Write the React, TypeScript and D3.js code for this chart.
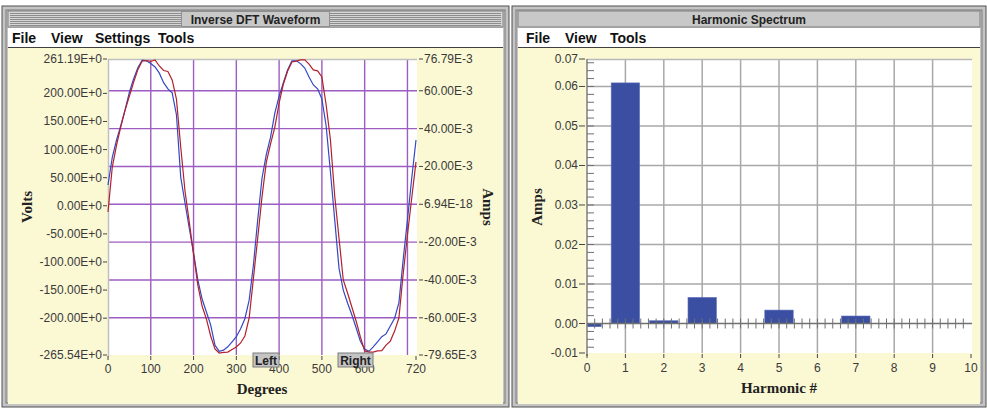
import React from "react";
import * as d3 from "d3";

// inverse DFT waveform, sampled every 10 degrees
const degrees = d3.range(0, 721, 10);
const volts = [
  37, 86, 117, 143, 171, 202, 226, 246, 259, 258,
  253, 247, 236, 219, 208, 201, 162, 51, 5, -40,
  -84, -132, -166, -189, -212, -248, -259, -257, -251, -242,
  -233, -219, -201, -168, -105, -25, 49, 91, 122, 165,
  195, 219, 242, 258, 258, 253, 245, 229, 215, 208,
  190, 142, 60, -25, -111, -150, -173, -194, -217, -241,
  -255, -259, -251, -242, -233, -228, -214, -200, -173, -96,
  -25, 49, 117,
];
const milliAmps = [
  -4.1, 19.7, 31.3, 41.0, 49.8, 57.2, 64.6, 71.3, 75.7, 76.0,
  75.5, 76.3, 73.1, 70.7, 70.2, 65.7, 55.6, 30.3, 7.0, -9.4,
  -26.3, -42.7, -53.8, -60.6, -69.6, -76.5, -78.6, -78.3, -78.1, -76.7,
  -75.4, -73.3, -69.6, -60.1, -39.0, -17.8, 3.9, 22.1, 31.9, 40.8,
  53.5, 63.6, 70.4, 75.2, 75.7, 76.3, 76.3, 74.1, 71.0, 70.5,
  67.3, 52.5, 34.0, 4.4, -17.8, -40.0, -46.9, -54.3, -61.7, -70.1,
  -77.5, -78.1, -78.1, -77.5, -77.3, -74.4, -72.3, -67.0, -60.1, -36.8,
  -16.2, 3.3, 22.4,
];

const voltTicks = [261.19, 200, 150, 100, 50, 0, -50, -100, -150, -200, -265.54];
const ampTicks = [76.79, 60, 40, 20, 0, -20, -40, -60, -79.65];
const ampTickLabels = ["76.79E-3", "60.00E-3", "40.00E-3", "20.00E-3", "6.94E-18", "-20.00E-3", "-40.00E-3", "-60.00E-3", "-79.65E-3"];
const ampGrid = [60, 40, 20, 0, -20, -40, -60];
const degreeTicks = [0, 100, 200, 300, 400, 500, 600, 720];
const degreeGrid = [100, 200, 300, 400, 500, 600, 700];

// harmonic spectrum
const harmonics = [0, 1, 2, 3, 4, 5, 6, 7, 8, 9, 10];
const harmonicAmps = [-0.0008, 0.0609, 0.0007, 0.0066, 0, 0.0034, 0, 0.0019, 0, 0, 0];
const spectrumTicks = [0.06695, 0.06, 0.05, 0.04, 0.03, 0.02, 0.01, 0, -0.00746];
const spectrumTickLabels = ["0.07", "0.06", "0.05", "0.04", "0.03", "0.02", "0.01", "0.00", "-0.01"];
const spectrumGrid = [0.01, 0.02, 0.03, 0.04, 0.05, 0.06];

const sans = "'Liberation Sans', Arial, sans-serif";
const serif = "'Liberation Serif', 'Times New Roman', serif";
const panelYellow = "#fbf8d4";

function Frame({ x, w, title, menu, striped }: any) {
  const y = 6, h = 401;
  const stripes = striped ? d3.range(13, 26, 2) : [];
  return (
    <g>
      <rect x={x} y={y} width={w} height={h} fill="#c4c4c4" stroke="#505050" />
      <rect x={x + 4} y={y + 4} width={w - 8} height={h - 8} fill="none" stroke="#7a7a7a" />
      <rect x={x + 6} y={11} width={w - 12} height={16} fill={striped ? "#d6d6d6" : "#c8c8c8"} stroke="#808080" />
      {stripes.map((s) => (
        <line key={s} x1={x + 8} x2={x + w - 8} y1={s + 0.5} y2={s + 0.5} stroke="#8c8c8c" />
      ))}
      {striped && (
        <rect x={x + w / 2 - 74} y={11.5} width={148} height={15} fill="#c8c8c8" stroke="#909090" />
      )}
      <text x={x + w / 2} y={23.5} textAnchor="middle" fontFamily={sans} fontWeight="bold" fontSize={12} fill="#222">
        {title}
      </text>
      <rect x={x + 6} y={28} width={w - 12} height={19} fill="#fff" />
      <line x1={x + 6} x2={x + w - 6} y1={47.5} y2={47.5} stroke="#404040" />
      {menu.map((m: any) => (
        <text key={m.label} x={m.x} y={43} fontFamily={sans} fontWeight="bold" fontSize={14} fill="#111">
          {m.label}
        </text>
      ))}
      <rect x={x + 6} y={48} width={w - 12} height={356} fill={panelYellow} />
    </g>
  );
}

function Waveform() {
  const x = d3.scaleLinear().domain([0, 720]).range([108, 416]);
  const yV = d3.scaleLinear().domain([-265.54, 261.19]).range([355, 59]);
  const yA = d3.scaleLinear().domain([-79.65, 76.79]).range([355, 59]);
  const voltLine = d3.line<number>().x((_, i) => x(degrees[i])).y((v) => yV(v));
  const ampLine = d3.line<number>().x((_, i) => x(degrees[i])).y((v) => yA(v));
  const buttons = [
    { label: "Left", x0: 253, x1: 279 },
    { label: "Right", x0: 338, x1: 373 },
  ];
  return (
    <g>
      <rect x={108} y={59} width={309} height={296} fill="#fff" />
      {ampGrid.map((t) => (
        <line key={t} x1={108} x2={417} y1={yA(t)} y2={yA(t)} stroke="#9c5cc0" strokeWidth={1.4} />
      ))}
      {degreeGrid.map((t) => (
        <line key={t} x1={x(t)} x2={x(t)} y1={59} y2={355} stroke="#9c5cc0" strokeWidth={1.4} />
      ))}
      <line x1={108} x2={417} y1={59.5} y2={59.5} stroke="#c0c0c0" strokeWidth={1.5} />
      <line x1={108.5} x2={108.5} y1={59} y2={357} stroke="#c0c0c0" strokeWidth={1.5} />
      <path d={voltLine(volts) || ""} fill="none" stroke="#3448c4" strokeWidth={1.2} />
      <path d={ampLine(milliAmps) || ""} fill="none" stroke="#b4202a" strokeWidth={1.2} />
      {voltTicks.map((t) => (
        <g key={t}>
          <line x1={103} x2={107} y1={yV(t)} y2={yV(t)} stroke="#444" />
          <text x={102} y={yV(t) + 4} textAnchor="end" fontFamily={sans} fontSize={12} fill="#3a3a3a">
            {t.toFixed(2) + "E+0"}
          </text>
        </g>
      ))}
      {ampTicks.map((t, i) => (
        <g key={t}>
          <line x1={419} x2={423} y1={yA(t)} y2={yA(t)} stroke="#444" />
          <text x={424} y={yA(t) + 4} fontFamily={sans} fontSize={12} fill="#3a3a3a">
            {ampTickLabels[i]}
          </text>
        </g>
      ))}
      {degreeTicks.map((t) => (
        <g key={t}>
          <line x1={x(t)} x2={x(t)} y1={356} y2={360} stroke="#444" />
          <text x={x(t)} y={373} textAnchor="middle" fontFamily={sans} fontSize={12} fill="#3a3a3a">
            {t}
          </text>
        </g>
      ))}
      {buttons.map((b) => (
        <g key={b.label}>
          <rect x={b.x0} y={353} width={b.x1 - b.x0} height={14} fill="#c4c4c4" stroke="#7c7c7c" />
          <text x={(b.x0 + b.x1) / 2} y={364.5} textAnchor="middle" fontFamily={sans} fontWeight="bold" fontSize={12} fill="#222">
            {b.label}
          </text>
        </g>
      ))}
      <text x={262} y={394} textAnchor="middle" fontFamily={serif} fontWeight="bold" fontSize={15} fill="#222">
        Degrees
      </text>
      <text transform="translate(32,207) rotate(-90)" textAnchor="middle" fontFamily={serif} fontWeight="bold" fontSize={15} fill="#222">
        Volts
      </text>
      <text transform="translate(483,207) rotate(90)" textAnchor="middle" fontFamily={serif} fontWeight="bold" fontSize={15} fill="#222">
        Amps
      </text>
    </g>
  );
}

function Spectrum() {
  const x = d3.scaleLinear().domain([0, 10]).range([587, 971]);
  const y = d3.scaleLinear().domain([-0.00746, 0.06695]).range([353, 59]);
  const half = 0.37;
  const minorY = d3.range(-0.006, 0.0669, 0.002);
  const minorX = d3.range(0.2, 10, 0.2);
  return (
    <g>
      <defs>
        <clipPath id="specClip">
          <rect x={587} y={59} width={384} height={294} />
        </clipPath>
      </defs>
      <rect x={587} y={59} width={385} height={294} fill="#fff" />
      {spectrumGrid.map((t) => (
        <line key={t} x1={587} x2={972} y1={y(t)} y2={y(t)} stroke="#a8a8a8" strokeWidth={1.5} />
      ))}
      {harmonics.slice(1, 10).map((h) => (
        <line key={h} x1={x(h)} x2={x(h)} y1={59} y2={353} stroke="#a8a8a8" strokeWidth={1.5} />
      ))}
      <line x1={587} x2={972} y1={59.5} y2={59.5} stroke="#b8b8b8" strokeWidth={1.5} />
      <g clipPath="url(#specClip)">
        {harmonics.map((h, i) => {
          const v = harmonicAmps[i];
          if (v === 0) return null;
          return (
            <rect key={h} x={x(h - half)} width={x(h + half) - x(h - half)} y={y(Math.max(v, 0))}
              height={Math.abs(y(v) - y(0))} fill="#3a4fa2" stroke="#5c6fb8" strokeWidth={0.6} />
          );
        })}
      </g>
      <line x1={587} x2={972} y1={y(0)} y2={y(0)} stroke="#707070" strokeWidth={1.5} />
      {minorX.map((t) => (
        <line key={t} x1={x(t)} x2={x(t)} y1={y(0) - 5} y2={y(0) + 5} stroke="#707070" />
      ))}
      <line x1={587} x2={587} y1={59} y2={356} stroke="#808080" strokeWidth={1.5} />
      {minorY.map((t) => (
        <line key={t} x1={587} x2={594} y1={y(t)} y2={y(t)} stroke="#707070" />
      ))}
      {spectrumTicks.map((t, i) => (
        <g key={t}>
          <line x1={579} x2={585} y1={y(t)} y2={y(t)} stroke="#444" />
          <text x={578} y={y(t) + 4} textAnchor="end" fontFamily={sans} fontSize={12} fill="#3a3a3a">
            {spectrumTickLabels[i]}
          </text>
        </g>
      ))}
      {harmonics.map((h) => (
        <g key={h}>
          <line x1={x(h)} x2={x(h)} y1={354} y2={358} stroke="#444" />
          <text x={x(h)} y={372} textAnchor="middle" fontFamily={sans} fontSize={12} fill="#3a3a3a">
            {h}
          </text>
        </g>
      ))}
      <text x={779} y={393} textAnchor="middle" fontFamily={serif} fontWeight="bold" fontSize={15} fill="#222">
        Harmonic #
      </text>
      <text transform="translate(542,207) rotate(-90)" textAnchor="middle" fontFamily={serif} fontWeight="bold" fontSize={15} fill="#222">
        Amps
      </text>
    </g>
  );
}

export default function App() {
  return (
    <div style={{ position: "fixed", left: 0, top: 0 }}>
      <svg width={987} height={409} style={{ display: "block" }}>
        <rect width={987} height={409} fill="#fff" />
        <Frame
          x={2} w={507} title="Inverse DFT Waveform" striped
          menu={[{ label: "File", x: 12 }, { label: "View", x: 51 }, { label: "Settings", x: 95 }, { label: "Tools", x: 158 }]}
        />
        <Frame
          x={512} w={474} title="Harmonic Spectrum"
          menu={[{ label: "File", x: 526 }, { label: "View", x: 565 }, { label: "Tools", x: 610 }]}
        />
        <Waveform />
        <Spectrum />
      </svg>
    </div>
  );
}
